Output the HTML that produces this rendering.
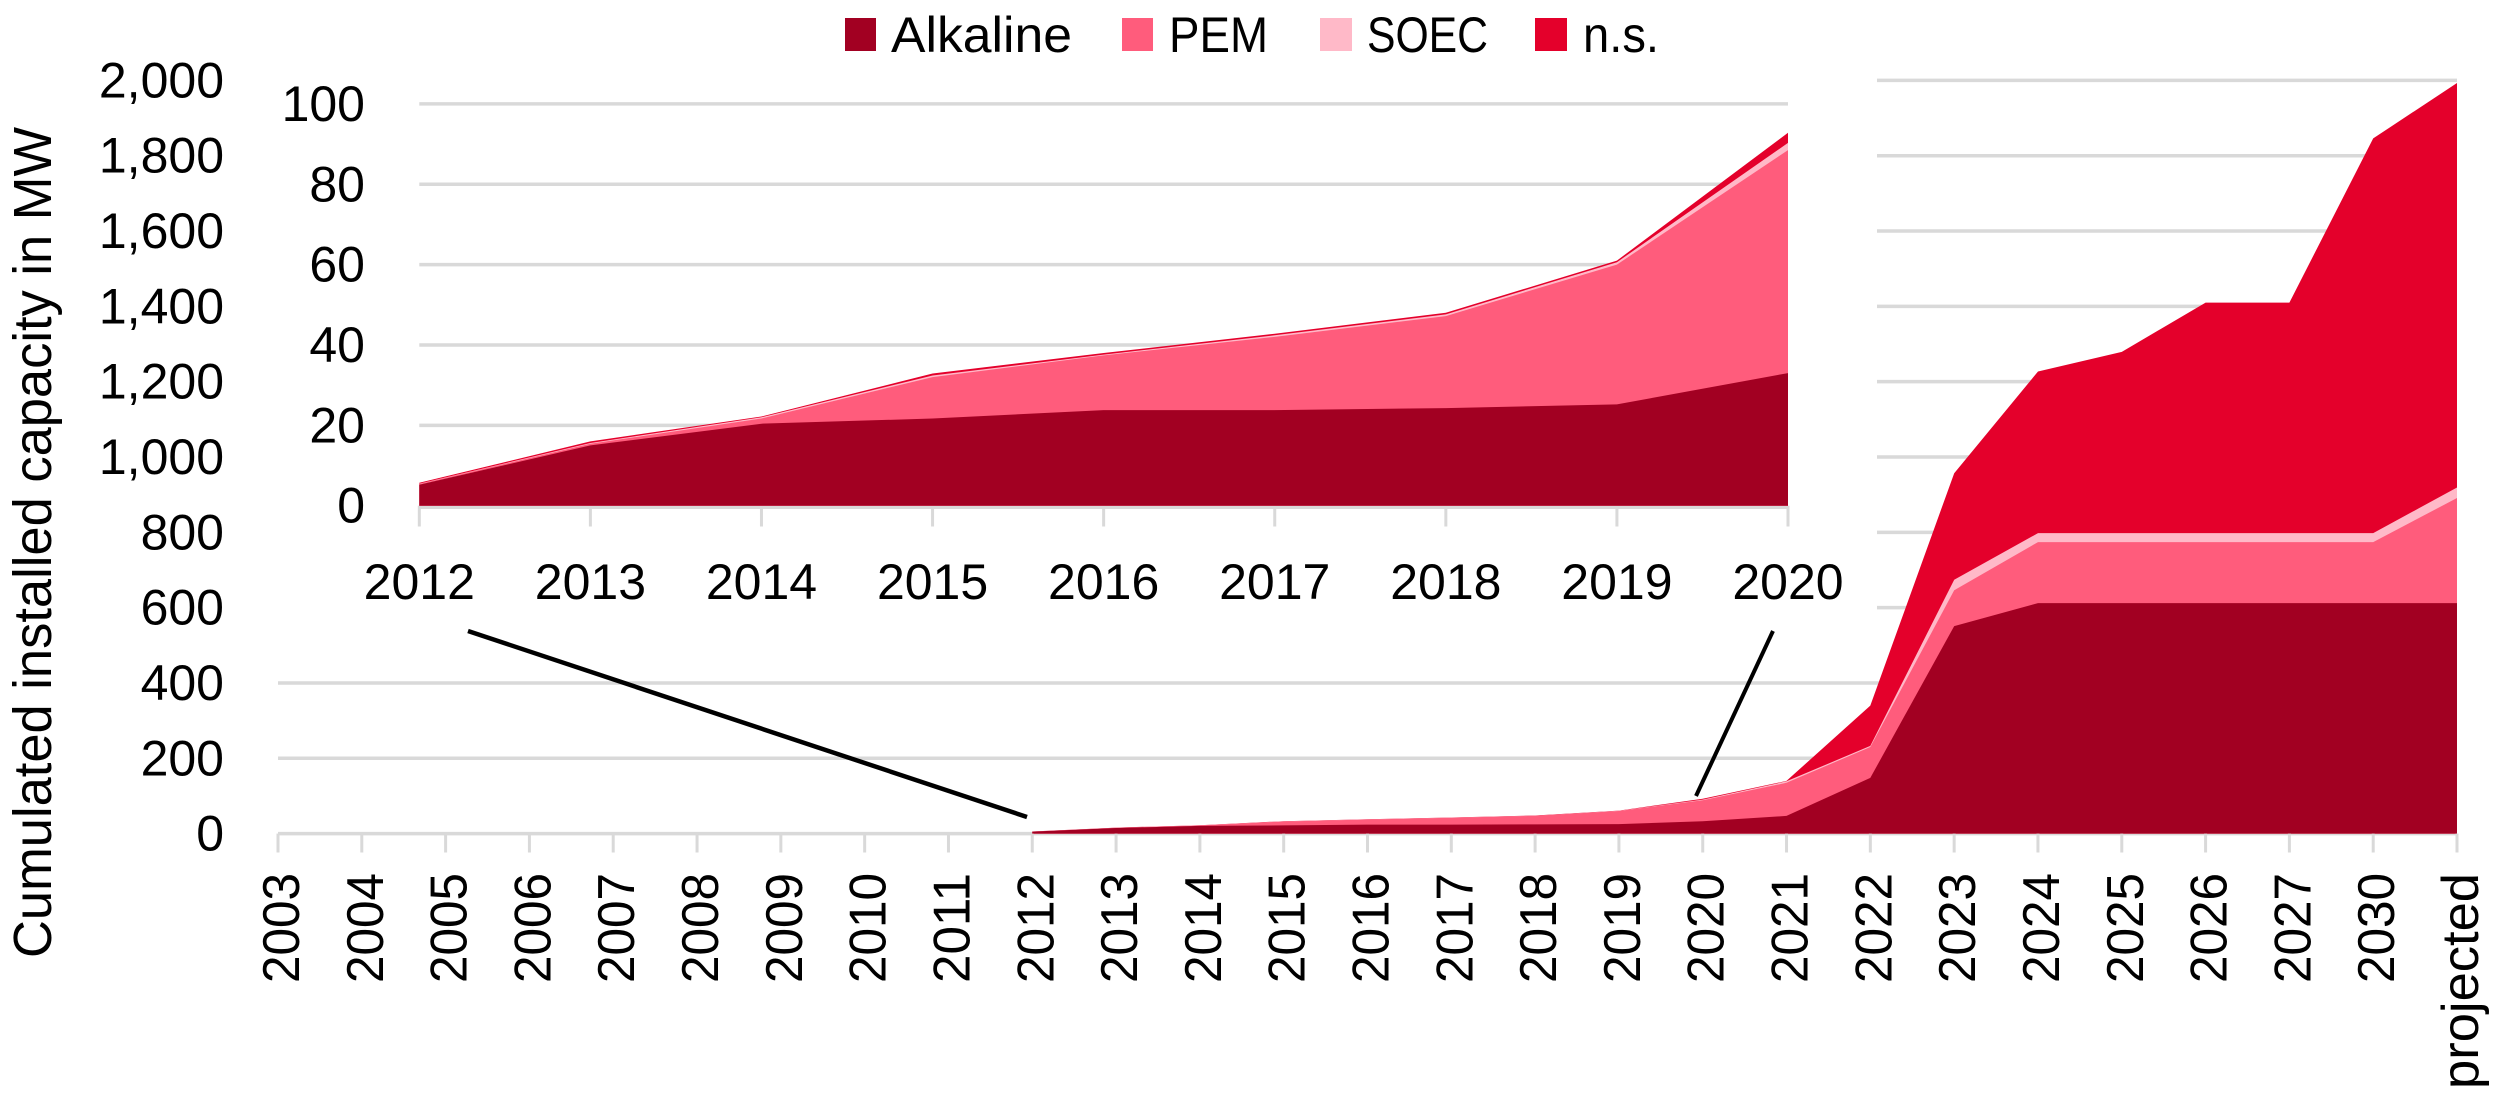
<!DOCTYPE html>
<html lang="en">
<head>
<meta charset="utf-8">
<title>Cumulated installed electrolyser capacity</title>
<style>
html,body{margin:0;padding:0;background:#fff;width:2500px;height:1104px;overflow:hidden}
svg{display:block;font-family:"Liberation Sans",Arial,sans-serif;fill:#000}
text{font-size:50px}
</style>
</head>
<body>
<svg id="chart" width="2500" height="1104" viewBox="0 0 2500 1104" xmlns="http://www.w3.org/2000/svg">
  <rect x="0" y="0" width="2500" height="1104" fill="#fff"/>
  <g id="main-grid"></g>
  <g id="main-areas"></g>
  <g id="main-axis"></g>
  <rect x="232" y="58" width="1645" height="587" fill="#fff"/>
  <g id="main-y"></g>
  <g id="inset-grid"></g>
  <g id="inset-axis"></g>
  <g id="inset-areas"></g>
  <g id="inset-y"></g>
  <line x1="468" y1="631" x2="1027" y2="817" stroke="#000" stroke-width="4.5"/>
  <line x1="1773" y1="631" x2="1696" y2="796" stroke="#000" stroke-width="4"/>
  <text transform="translate(51,958) rotate(-90)" textLength="831" lengthAdjust="spacingAndGlyphs" style="font-size:54px">Cumulated installed capacity in MW</text>
  <g>
    <g>
      <rect x="845" y="18" width="31" height="33" fill="#a20022"/>
      <text x="891" y="52" textLength="181" lengthAdjust="spacingAndGlyphs">Alkaline</text>
    </g>
    <g>
      <rect x="1122" y="18" width="31" height="33" fill="#ff5c7c"/>
      <text x="1169" y="52" textLength="99" lengthAdjust="spacingAndGlyphs">PEM</text>
    </g>
    <g>
      <rect x="1320" y="18" width="32" height="33" fill="#ffb9c8"/>
      <text x="1367" y="52" textLength="121" lengthAdjust="spacingAndGlyphs">SOEC</text>
    </g>
    <g>
      <rect x="1535" y="18" width="32" height="33" fill="#e4002b"/>
      <text x="1583" y="52" textLength="76" lengthAdjust="spacingAndGlyphs">n.s.</text>
    </g>
  </g>
</svg>
<script>
const categories = ["2003","2004","2005","2006","2007","2008","2009","2010","2011","2012","2013","2014","2015","2016","2017","2018","2019","2020","2021","2022","2023","2024","2025","2026","2027","2030","projected"];
const alkaline = [0,0,0,0,0,0,0,0,0,5.2,15,20.4,21.7,23.8,23.8,24.3,25.2,33,47,148,551,612,612,612,612,612,612];
const pem = [0,0,0,0,0,0,0,0,0,0.2,0.4,1.3,10.3,13.6,18.2,22.9,34.8,55.5,88,82,95,162,162,162,162,162,279];
const soec = [0,0,0,0,0,0,0,0,0,0.1,0.2,0.3,0.4,0.2,0.4,0.4,0.6,1.8,4,3,28,24,24,24,24,24,28];
const notSpecified = [0,0,0,0,0,0,0,0,0,0.2,0.4,0.2,0.5,0.4,0.4,0.4,0.4,2.5,1,107,283,429,481,612,612,1048,1074];
const mainTicks = [0,200,400,600,800,1000,1200,1400,1600,1800,2000];
const insetTicks = [0,20,40,60,80,100];
const insetStart = "2012";
const insetEnd = "2020";

const NS = "http://www.w3.org/2000/svg";
const GRID = "#d9d9d9";
const seriesNames = ["alkaline","pem","soec","ns"];
const seriesColors = ["#a20022","#ff5c7c","#ffb9c8","#e4002b"];

function xMain(i){ return 278 + i * (2457 - 278) / (categories.length - 1); }
function yMain(v){ return 833.6 - v * (833.6 - 80.4) / 2000; }
const insetFirst = categories.indexOf(insetStart);
const insetLast = categories.indexOf(insetEnd);
function xInset(i){ return 419.3 + (i - insetFirst) * (1788 - 419.3) / (insetLast - insetFirst); }
function yInset(v){ return 505.7 - v * (505.7 - 103.9) / 100; }

function make(tag, parent, attrs, txt){
  const el = document.createElementNS(NS, tag);
  for (const k in attrs) el.setAttribute(k, attrs[k]);
  if (txt !== undefined) el.textContent = txt;
  parent.appendChild(el);
  return el;
}
function cumulative(level, i){
  const all = [alkaline, pem, soec, notSpecified];
  let s = 0;
  for (let k = 0; k <= level; k++) s += all[k][i];
  return s;
}
function firstNonZero(){
  for (let i = 0; i < categories.length; i++) if (cumulative(3, i) > 0) return i;
  return 0;
}
function drawAreas(parent, first, last, xf, yf, prefix){
  for (let level = 3; level >= 0; level--){
    let pts = [xf(first).toFixed(1) + "," + yf(0).toFixed(1)];
    for (let i = first; i <= last; i++) pts.push(xf(i).toFixed(1) + "," + yf(cumulative(level, i)).toFixed(1));
    pts.push(xf(last).toFixed(1) + "," + yf(0).toFixed(1));
    const poly = make("polygon", parent, {points: pts.join(" "), fill: seriesColors[level]});
    
    
  }
}
function fmt(v){ return v >= 1000 ? Math.floor(v / 1000) + "," + String(v % 1000).padStart(3, "0") : String(v); }

/* main gridlines and y labels */
const mainGrid = document.getElementById("main-grid");
const mainY = document.getElementById("main-y");
mainTicks.forEach(function(v){
  const ln = make("line", mainGrid, {x1: xMain(0), x2: xMain(categories.length - 1), y1: yMain(v), y2: yMain(v), stroke: GRID, "stroke-width": 3.5});
  
  
  const t = make("text", mainY, {x: 224, y: yMain(v) + 17, "text-anchor": "end"}, fmt(v));
  
  
});

/* main areas */
drawAreas(document.getElementById("main-areas"), firstNonZero(), categories.length - 1, xMain, yMain, "main");

/* main x axis */
const mainAxis = document.getElementById("main-axis");
categories.forEach(function(c, i){
  const tick = make("line", mainAxis, {x1: xMain(i), x2: xMain(i), y1: yMain(0), y2: 852.5, stroke: GRID, "stroke-width": 3});
  
  
  const attrs = {transform: "translate(" + (xMain(i) + 21) + ",873) rotate(-90)", "text-anchor": "end", style: "font-size:52px", textLength: c === "projected" ? 216 : 110, lengthAdjust: "spacingAndGlyphs"};
  const t = make("text", mainAxis, attrs, c);
  
  
});

/* inset */
const insetGrid = document.getElementById("inset-grid");
const insetY = document.getElementById("inset-y");
insetTicks.forEach(function(v){
  const ln = make("line", insetGrid, {x1: xInset(insetFirst), x2: xInset(insetLast), y1: yInset(v) + (v === 0 ? 1.5 : 0), y2: yInset(v) + (v === 0 ? 1.5 : 0), stroke: GRID, "stroke-width": 3.5});
  
  
  const t = make("text", insetY, {x: 365, y: yInset(v) + 17, "text-anchor": "end"}, String(v));
  
  
});
const insetAxis = document.getElementById("inset-axis");
for (let i = insetFirst; i <= insetLast; i++){
  const tick = make("line", insetAxis, {x1: xInset(i), x2: xInset(i), y1: yInset(0), y2: 526.5, stroke: GRID, "stroke-width": 3});
  
  
  const t = make("text", insetAxis, {x: xInset(i), y: 599, "text-anchor": "middle"}, categories[i]);
  
  
}
drawAreas(document.getElementById("inset-areas"), insetFirst, insetLast, xInset, yInset, "inset");
</script>
</body>
</html>
